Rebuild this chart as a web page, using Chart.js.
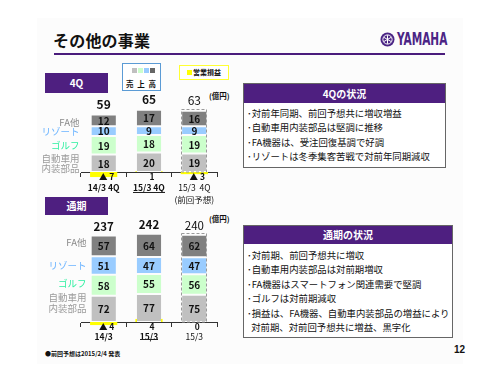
<!DOCTYPE html>
<html lang="ja">
<head>
<meta charset="utf-8">
<script src="https://cdn.jsdelivr.net/npm/chart.js@4.4.1/dist/chart.umd.min.js"></script>
<style>
  body { margin: 0; width: 500px; height: 375px; position: relative; overflow: hidden; background: #fff;
         font-family: "Noto Sans CJK JP", sans-serif; color: #111; }
  .abs { position: absolute; }
  .slide { left: 37px; top: 18px; width: 426px; height: 346px; background: #fcfcfc; }
  .title { left: 53px; top: 29px; font-size: 16px; font-weight: bold; line-height: 22px; letter-spacing: 0.2px; }
  .rule { left: 54px; top: 53px; width: 391px; height: 2px; background: #4a1c7c; }
  .logo { left: 380px; top: 32px; height: 16px; width: 70px; }
  .logo svg { position: absolute; left: 0; top: 0; }
  .logo span { position: absolute; left: 17px; top: -3px; font-family: "Liberation Sans Narrow", "DejaVu Sans Condensed", sans-serif;
               font-weight: bold; font-size: 17px; color: #4b2585; transform: scaleX(0.69); transform-origin: left center;
               white-space: nowrap; }
  .tag { background: #4e1f80; color: #fff; font-weight: bold; font-size: 10px; text-align: center; }
  .legend { left: 122px; top: 63px; width: 37px; height: 26px; border: 1.5px solid #5b9bd5; background: #fff; }
  .legend i { position: absolute; top: 4px; width: 5px; height: 5px; }
  .legend b { position: absolute; left: 0; right: 0; top: 14px; text-align: center; font-size: 7.5px; letter-spacing: 1px; }
  .plegend { left: 179px; top: 65px; width: 48px; height: 13px; border: 1px solid #ffff33; background: #fff;
             font-size: 7px; font-weight: bold; line-height: 13px; text-align: center; }
  .plegend i { display: inline-block; width: 5px; height: 5px; background: #ffff00; margin-right: 1px; }
  .unit { font-size: 7.5px; font-weight: bold; }
  .box { border: 1px solid #666; background: #fff; }
  .box .hd { background: #4e1f80; color: #fff; font-weight: bold; font-size: 10px; text-align: center; }
  .box .bd { font-size: 9.4px; line-height: 14.4px; padding: 3px 0 0 3px; white-space: nowrap; }
  .note { left: 45px; top: 349px; font-size: 6px; font-weight: bold; }
  .page { left: 454px; top: 344px; font-size: 10px; font-weight: bold; font-family: "Liberation Sans", sans-serif; }
  canvas { position: absolute; left: 0; }
</style>
</head>
<body>
<div class="abs slide"></div>
<div class="abs title">その他の事業</div>
<div class="abs rule"></div>
<div class="abs logo">
  <svg width="15" height="15" viewBox="0 0 15 15">
    <circle cx="7.5" cy="7.5" r="7" fill="#4b2585"/>
    <circle cx="7.5" cy="7.5" r="4.6" fill="none" stroke="#fff" stroke-width="1"/>
    <path d="M7.5 3.2v8.6M3.8 9.6l7.4-4.3M3.8 5.3l7.4 4.3" stroke="#fff" stroke-width="1"/>
  </svg>
  <span>YAMAHA</span>
</div>

<div class="abs tag" style="left:45px;top:73px;width:63px;height:20px;line-height:20px">4Q</div>
<div class="abs legend">
  <i style="left:9px;background:#c0c0c0"></i><i style="left:15px;background:#ccffcc"></i>
  <i style="left:21px;background:#99ccff"></i><i style="left:27px;background:#666"></i>
  <b>売 上 高</b>
</div>
<div class="abs plegend"><i></i>営業損益</div>
<div class="abs unit" style="left:209px;top:90px">(億円)</div>

<div class="abs tag" style="left:45px;top:197px;width:63px;height:18px;line-height:18px">通期</div>
<div class="abs unit" style="left:209px;top:213px">(億円)</div>

<div class="abs box" style="left:243px;top:83px;width:201px;height:83px">
  <div class="hd" style="height:19px;line-height:19px">4Qの状況</div>
  <div class="bd">
    <div>･対前年同期、前回予想共に増収増益</div>
    <div>･自動車用内装部品は堅調に推移</div>
    <div>･FA機器は、受注回復基調で好調</div>
    <div>･リゾートは冬季集客苦戦で対前年同期減収</div>
  </div>
</div>
<div class="abs box" style="left:243px;top:225px;width:208px;height:111px">
  <div class="hd" style="height:18px;line-height:18px">通期の状況</div>
  <div class="bd" style="padding-top:4px">
    <div>･対前期、前回予想共に増収</div>
    <div>･自動車用内装部品は対前期増収</div>
    <div>･FA機器はスマートフォン関連需要で堅調</div>
    <div>･ゴルフは対前期減収</div>
    <div>･損益は、FA機器、自動車内装部品の増益により</div>
    <div>&nbsp;&nbsp;対前期、対前回予想共に増益、黒字化</div>
  </div>
</div>
<div class="abs note">●前回予想は2015/2/4 発表</div>
<div class="abs page">12</div>

<canvas id="q4-chart" width="240" height="120" style="top:90px"></canvas>
<canvas id="fy-chart" width="240" height="140" style="top:210px"></canvas>

<script>
// 4Q（億円）
const q4Labels = ["14/3 4Q", "15/3 4Q", ["15/3  4Q", "(前回予想)"]];
const q4Auto = [18, 20, 19];
const q4Golf = [19, 18, 19];
const q4Resort = [10, 9, 9];
const q4FA = [12, 17, 16];
const q4Total = [59, 65, 63];
const q4Profit = [-7, 1, -3];

// 通期（億円）
const fyLabels = ["14/3", "15/3", "15/3"];
const fyAuto = [72, 77, 75];
const fyGolf = [58, 55, 56];
const fyResort = [51, 47, 47];
const fyFA = [57, 64, 62];
const fyTotal = [237, 242, 240];
const fyProfit = [-4, 4, 0];

const segmentNames = [["自動車用", "内装部品"], "ゴルフ", "リゾート", "FA他"];
const segmentColors = ["#c0c0c0", "#ccffcc", "#99ccff", "#808080"];
const nameColors = ["#9a9a9a", "#2fefa0", "#6cb4ff", "#8a8a8a"];

const FONT = '"Noto Sans CJK JP", sans-serif';

const slideMarks = {
    id: "slideMarks",
    afterDatasetsDraw(chart, args, opts) {
        const ctx = chart.ctx;
        const metas = [0, 1, 2, 3].map((i) => chart.getDatasetMeta(i));
        const last = chart.data.labels.length - 1;
        const bottom = chart.chartArea.bottom;
        ctx.save();
        ctx.textAlign = "center";
        ctx.textBaseline = "middle";

        // 各セグメントの数値
        ctx.fillStyle = "#111";
        ctx.font = "bold 10px " + FONT;
        metas.forEach((m, di) => m.data.forEach((bar, i) => {
            ctx.fillText(chart.data.datasets[di].data[i], bar.x, (bar.y + bar.base) / 2 + 0.5);
        }));

        // 前回予想は破線で囲む
        const b0 = metas[0].data[last];
        const b3 = metas[3].data[last];
        ctx.setLineDash([3, 2]);
        ctx.strokeStyle = "#9a9a9a";
        ctx.lineWidth = 1;
        ctx.strokeRect(Math.round(b0.x - b0.width / 2) - 0.5, Math.round(b3.y) - 1.5,
            Math.round(b0.width) + 1, Math.round(b0.base - b3.y) + 1.5);
        ctx.setLineDash([]);

        // 合計
        opts.totals.forEach((t, i) => {
            const top = metas[3].data[i];
            ctx.font = (i < last ? "bold " : "") + opts.totalSize + "px " + FONT;
            ctx.fillText(t, top.x, top.y - opts.totalGap);
        });

        // 区分名（最初の棒の左）
        ctx.textAlign = "right";
        ctx.font = "9.5px " + FONT;
        segmentNames.forEach((n, di) => {
            const bar = metas[di].data[0];
            const lines = [].concat(n);
            const cy = (bar.y + bar.base) / 2 + (opts.nameShift[di] || 0);
            ctx.fillStyle = nameColors[di];
            lines.forEach((s, k) => {
                ctx.fillText(s, bar.x - bar.width / 2 - opts.nameGap, cy + (k - (lines.length - 1) / 2) * 10.5);
            });
        });

        // 営業損益
        ctx.textAlign = "center";
        ctx.fillStyle = "#111";
        ctx.font = "bold 8.5px " + FONT;
        const pm = chart.getDatasetMeta(4);
        opts.profit.forEach((v, i) => {
            const txt = v < 0 ? "▲ " + (-v) : String(v);
            ctx.fillText(txt, pm.data[i].x + 3, bottom + 5);
        });

        // 当期ラベルの下線
        const xs = chart.scales.x;
        ctx.font = "bold " + opts.tickSize + "px " + FONT;
        const lbl = chart.data.labels[1];
        const w = ctx.measureText(lbl).width;
        const ux = xs.getPixelForTick(1);
        ctx.fillStyle = "#222";
        ctx.fillRect(Math.round(ux - w / 2), bottom + opts.underline, Math.round(w), 1);
        ctx.restore();
    }
};

function makeChart(id, labels, auto, golf, resort, fa, profit, cfg) {
    const ctx = document.getElementById(id).getContext("2d");
    const sales = [auto, golf, resort, fa].map((data, i) => ({
        data,
        backgroundColor: segmentColors[i],
        borderColor: "#fcfcfc",
        borderWidth: { top: 1, bottom: 1, left: 0, right: 0 },
        borderSkipped: false,
        stack: "a",
        yAxisID: "y",
        barPercentage: 0.54,
        categoryPercentage: 1,
        order: 0
    }));
    return new Chart(ctx, {
        type: "bar",
        data: {
            labels,
            datasets: sales.concat([{
                data: profit,
                backgroundColor: "#ffff00",
                borderWidth: 0,
                stack: "a",
                yAxisID: "yP",
                barPercentage: 0.6,
                categoryPercentage: 1,
                clip: false,
                order: 1
            }])
        },
        options: {
            responsive: false,
            animation: false,
            devicePixelRatio: 1,
            layout: { padding: { left: 81, right: 23, top: cfg.padTop, bottom: 0 } },
            plugins: {
                legend: { display: false },
                tooltip: { enabled: false },
                slideMarks: cfg.marks
            },
            scales: {
                x: {
                    stacked: true,
                    z: 1,
                    grid: { display: true, drawOnChartArea: false, tickLength: 5, color: "#333", offset: true },
                    border: { color: "#333" },
                    ticks: {
                        color: "#111",
                        padding: cfg.tickPad,
                        autoSkip: false,
                        maxRotation: 0,
                        font: (c) => ({
                            family: FONT,
                            size: cfg.marks.tickSize,
                            weight: c.index < 2 ? "bold" : "normal",
                            lineHeight: 1.4
                        })
                    },
                    afterFit: (s) => { s.height = cfg.axisHeight; }
                },
                y: { stacked: true, display: false, min: 0, max: cfg.yMax },
                yP: { stacked: true, display: false, min: 0, max: cfg.pMax }
            }
        },
        plugins: [slideMarks]
    });
}

document.addEventListener("DOMContentLoaded", () => {
    makeChart("q4-chart", q4Labels, q4Auto, q4Golf, q4Resort, q4FA, q4Profit, {
        padTop: 10, yMax: 74, pMax: 100, axisHeight: 38, tickPad: 5,
        marks: { totals: q4Total, profit: q4Profit, totalSize: 12, totalGap: 10,
                 nameGap: 12, nameShift: [0, 0, 0, 2], tickSize: 8.5, underline: 20 }
    });
    makeChart("fy-chart", fyLabels, fyAuto, fyGolf, fyResort, fyFA, fyProfit, {
        padTop: 20, yMax: 253, pMax: 120, axisHeight: 28, tickPad: 4,
        marks: { totals: fyTotal, profit: fyProfit, totalSize: 11.5, totalGap: 9,
                 nameGap: 5, nameShift: [-6, -2, 0, -3], tickSize: 8.5, underline: 17 }
    });
});
</script>
</body>
</html>
